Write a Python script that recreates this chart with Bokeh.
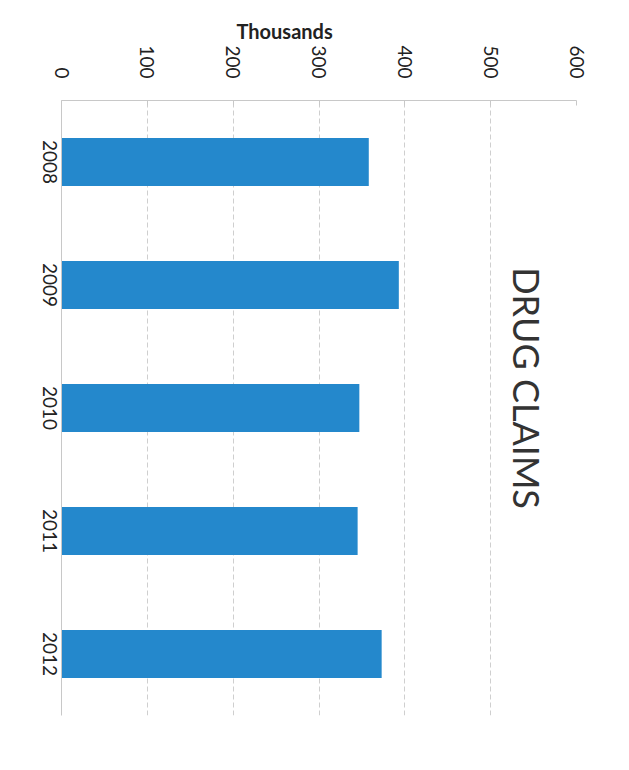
import math
from bokeh.plotting import figure
from bokeh.models import Range1d, Title, FixedTicker, LinearAxis
from bokeh.core.properties import value
from bokeh.embed import file_html
from bokeh.resources import INLINE

years = ["2008", "2009", "2010", "2011", "2012"]
claims = [358, 393, 347, 345, 373]
ticks = [0, 100, 200, 300, 400, 500, 600]
title_text = "DRUG CLAIMS"
unit_text = "Thousands"

# one band of `unit` y-units per year, first year at the top
n = len(years)
unit = 100
centers = [(n - 1 - i) * unit + unit / 2 for i in range(n)]

p = figure(width=629, height=770, output_backend="svg", toolbar_location=None,
           x_range=Range1d(0, 600), y_range=Range1d(0, n * unit),
           x_axis_location="above", y_axis_location=None,
           min_border_left=61, min_border_right=53, min_border_top=100, min_border_bottom=55)

p.hbar(y=centers, right=claims, left=0, height=0.39 * unit,
       fill_color="#2488cc", line_color=None)

p.xaxis.ticker = FixedTicker(ticks=ticks)
p.xaxis.major_label_orientation = -math.pi / 2
p.xaxis.major_label_text_font = "Lato"
p.xaxis.major_label_text_font_size = "19px"
p.xaxis.major_label_text_color = "#222222"
p.xaxis.major_label_standoff = 22
p.xaxis.axis_line_color = "#c8c8c8"
p.xaxis.major_tick_in = 5
p.xaxis.major_tick_out = 0
p.xaxis.major_tick_line_color = "#c8c8c8"
p.xaxis.minor_tick_line_color = None

# year labels: rotated text reading downwards, ending half a label below the
# band centre so that each label is centred on its bar
half_label = 18
lab_ticks = [int(c) - half_label for c in centers]
yax = LinearAxis(ticker=FixedTicker(ticks=lab_ticks),
                 major_label_overrides={t: yr for t, yr in zip(lab_ticks, years)},
                 major_label_orientation=-math.pi / 2,
                 major_label_text_font="Lato", major_label_text_font_size="19px",
                 major_label_text_color="#222222", major_label_standoff=6,
                 axis_line_color="#c8c8c8", major_tick_line_color=None,
                 minor_tick_line_color=None)
p.add_layout(yax, "left")

p.xgrid.grid_line_color = "#cfcfcf"
p.xgrid.grid_line_dash = "5 3"
p.ygrid.grid_line_color = None
p.outline_line_color = None

p.text(x=[542], y=[n * unit / 2], text=[title_text], angle=-math.pi / 2, y_offset=-20,
       text_align="center", text_baseline="middle",
       text_font=value("Lato"), text_font_size="36px", text_color="#333333")

p.add_layout(Title(text=unit_text, align="left", offset=175, standoff=0,
                   text_font="Lato", text_font_style="bold", text_font_size="20px",
                   text_color="#222222"), "above")

open("out.html", "w").write(file_html(p, INLINE))
